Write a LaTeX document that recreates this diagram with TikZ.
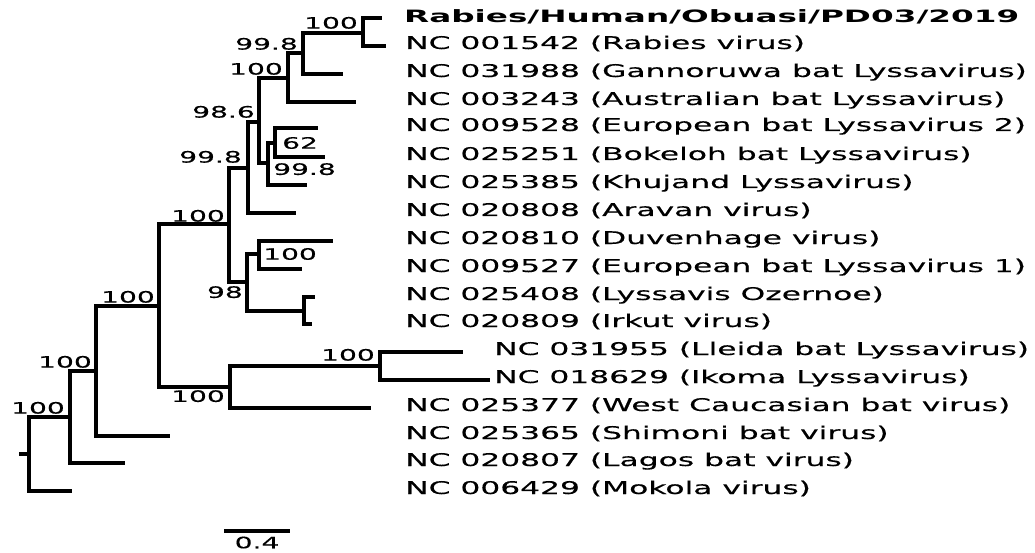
\documentclass[tikz,border=0pt]{standalone}
\usepackage{fontspec}
\newfontfamily\treefont{DejaVu Sans}[FakeStretch=1.79, FakeBold=0.35]
\newfontfamily\treeboldfont{DejaVu Sans}[FakeStretch=1.92]
\usepackage{tikz}
\usetikzlibrary{positioning}

\begin{document}
\begin{tikzpicture}[
  x=1pt, y=-1pt,
  branch/.style={line width=3.2pt, line join=miter},
  boot/.style={font=\treefont\fontsize{15.7}{18}\selectfont, inner sep=0pt},
  leaf/.style={font=\treefont\fontsize{17.5}{20}\selectfont, inner sep=0pt,
    anchor=base west}
]
  \useasboundingbox (0,0) rectangle (1035,553);

  % Query sequence (bold)
  \coordinate (obuasi) at (382,18);
  \node[leaf, font=\treeboldfont\bfseries\fontsize{17}{20}\selectfont]
    (lab-obuasi) at (404,18+5) {Rabies/Human/Obuasi/PD03/2019};

  % Reference tips and labels
  \foreach \n/\tx/\ty/\lx/\lab in {
    rabv/386/46/405/NC 001542 (Rabies virus),
    gbl/343/74/405/NC 031988 (Gannoruwa bat Lyssavirus),
    abl/356/102/405/NC 003243 (Australian bat Lyssavirus),
    ebltwo/318/128/405/NC 009528 (European bat Lyssavirus 2),
    bbl/325/157/405/NC 025251 (Bokeloh bat Lyssavirus),
    khuv/307/185/405/NC 025385 (Khujand Lyssavirus),
    arav/296/213/405/NC 020808 (Aravan virus),
    duvv/333/241/405/NC 020810 (Duvenhage virus),
    eblone/302/269/405/NC 009527 (European bat Lyssavirus 1),
    ozev/315/297/405/NC 025408 (Lyssavis Ozernoe),
    irkv/312/324/405/NC 020809 (Irkut virus),
    lbl/463/352/494/NC 031955 (Lleida bat Lyssavirus),
    ikov/490/380/494/NC 018629 (Ikoma Lyssavirus),
    wcbv/371/408/405/NC 025377 (West Caucasian bat virus),
    shiv/170/436/405/NC 025365 (Shimoni bat virus),
    lbv/125/463/405/NC 020807 (Lagos bat virus),
    mokv/72/491/405/NC 006429 (Mokola virus)%
  }{
    \coordinate (\n) at (\tx,\ty);
    \node[leaf] (lab-\n) at (\lx,\ty+3) {\lab};
  }

  % Internal nodes
  \foreach \n/\x/\y in {
    root/19/454, n0/29/454, n1/70/417, n2/96/371, n3/159/306,
    n4/229/224, n5/230/387, n6/380/366, n7/248/168, n8/247/282,
    n9/259/254, n10/304/311, n11/259/122, n12/288/78, n13/268/163,
    n14/275/143, n15/303/53, n16/363/33%
  }{
    \coordinate (\n) at (\x,\y);
  }

  % Branches
  \draw[branch] (root) -- (n0);
  \foreach \a/\b in {
    n0/n1, n0/mokv, n1/n2, n1/lbv, n2/n3, n2/shiv, n3/n4, n3/n5,
    n5/n6, n5/wcbv, n6/lbl, n6/ikov, n4/n7, n4/n8, n8/n9, n8/n10,
    n9/duvv, n9/eblone, n10/ozev, n10/irkv, n7/n11, n7/arav,
    n11/n12, n11/n13, n13/n14, n13/khuv, n14/ebltwo, n14/bbl,
    n12/n15, n12/abl, n15/n16, n15/gbl, n16/obuasi, n16/rabv%
  }{
    \draw[branch] (\a) |- (\b);
  }

  % Bootstrap support
  \node[boot, above left=4pt and 5pt of n16] (bs16) {100};
  \node[boot, above left=3pt and 5pt of n15] (bs15) {99.8};
  \node[boot, above left=3pt and 5pt of n12] (bs12) {100};
  \node[boot, above left=4pt and 4pt of n11] (bs11) {98.6};
  \node[boot, right=7pt of n14] (bs14) {62};
  \node[boot, below right=0pt and 5pt of n13] (bs13) {99.8};
  \node[boot, above left=5pt and 6pt of n7] (bs7) {99.8};
  \node[boot, above left=2pt and 4pt of n4] (bs4) {100};
  \node[boot, right=4pt of n9] (bs9) {100};
  \node[boot, below left=4pt and 4pt of n8] (bs8) {98};
  \node[boot, above left=3pt and 4pt of n3] (bs3) {100};
  \node[boot, above left=3pt and 4pt of n2] (bs2) {100};
  \node[boot, above left=3pt and 5pt of n1] (bs1) {100};
  \node[boot, above left=5pt and 5pt of n6] (bs6) {100};
  \node[boot, below left=3pt and 5pt of n5] (bs5) {100};

  % Scale bar
  \coordinate (sb-l) at (224,531);
  \coordinate (sb-r) at (290,531);
  \draw[branch] (sb-l) -- (sb-r)
    node[boot, midway, below=4pt] (sb-lab) {0.4};
\end{tikzpicture}
\end{document}
